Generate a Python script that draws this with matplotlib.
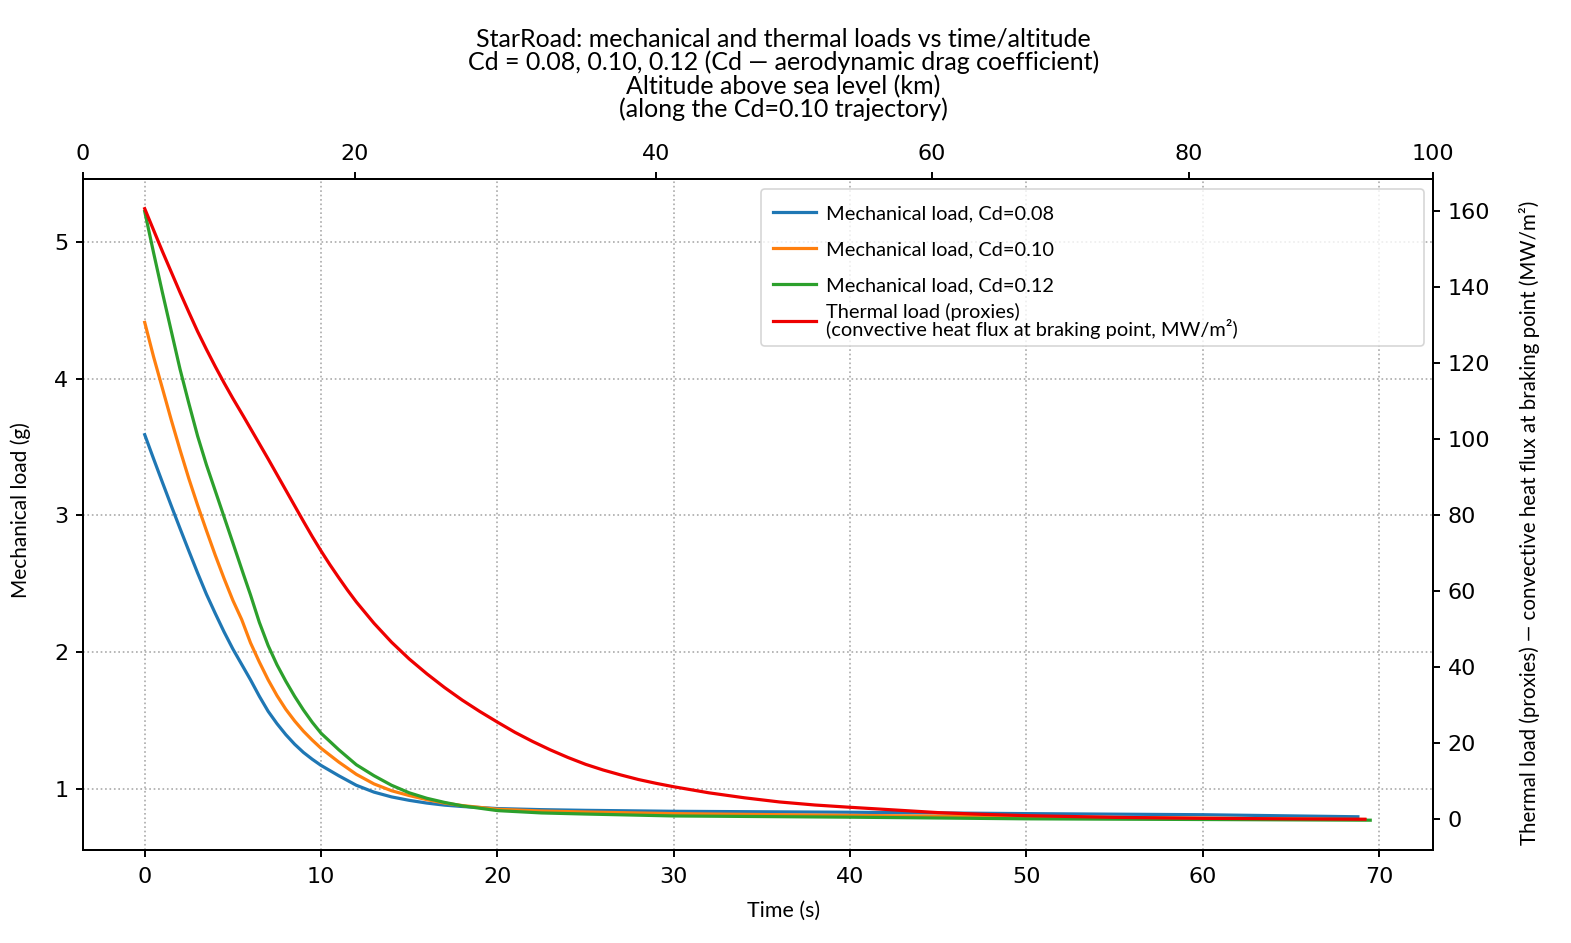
import numpy as np
import matplotlib
matplotlib.use("Agg")
import matplotlib.pyplot as plt
from matplotlib.legend_handler import HandlerLine2D

# ---------------- data ----------------
t_cd08 = [0, 0.5, 1, 1.5, 2, 2.5, 3, 3.5, 4, 4.5, 5, 5.6, 6, 6.5, 7, 7.5, 8, 8.5, 9, 9.5, 10,
          11, 12, 13, 14, 15, 16, 17, 18, 20, 22.5, 25, 30, 40, 50, 60, 68.8]
g_cd08 = [3.59, 3.415, 3.243, 3.073, 2.906, 2.742, 2.580, 2.425, 2.285, 2.150, 2.025, 1.89, 1.80,
          1.68, 1.57, 1.48, 1.40, 1.33, 1.27, 1.22, 1.175, 1.10, 1.03, 0.98, 0.945, 0.92, 0.90,
          0.885, 0.875, 0.860, 0.852, 0.847, 0.840, 0.833, 0.823, 0.815, 0.800]

t_cd10 = [0, 0.5, 1, 1.5, 2, 2.5, 3, 3.5, 4, 4.5, 5, 5.5, 6, 6.5, 7, 7.5, 8, 8.5, 9, 9.5, 10,
          11, 12, 13, 14, 15, 16, 17, 18, 20, 22.5, 25, 30, 40, 50, 60, 69.2]
g_cd10 = [4.41, 4.16, 3.93, 3.70, 3.48, 3.27, 3.075, 2.89, 2.71, 2.54, 2.38, 2.24, 2.07, 1.93,
          1.80, 1.685, 1.585, 1.50, 1.425, 1.36, 1.30, 1.20, 1.11, 1.04, 0.99, 0.955, 0.925, 0.900,
          0.882, 0.855, 0.842, 0.835, 0.823, 0.810, 0.800, 0.790, 0.780]

t_cd12 = [0, 0.5, 1, 1.5, 2, 2.5, 3, 3.5, 4, 4.5, 5, 5.6, 6, 6.5, 7, 7.5, 8, 8.5, 9, 9.5, 10,
          11, 12, 13, 14, 15, 16, 17, 18, 20, 22.5, 25, 30, 40, 50, 60, 69.5]
g_cd12 = [5.22, 4.92, 4.63, 4.35, 4.07, 3.82, 3.58, 3.37, 3.18, 2.99, 2.80, 2.57, 2.42, 2.22, 2.05,
          1.91, 1.79, 1.68, 1.58, 1.49, 1.41, 1.29, 1.18, 1.10, 1.03, 0.975, 0.935, 0.905, 0.880,
          0.845, 0.828, 0.820, 0.806, 0.797, 0.785, 0.780, 0.775]

t_heat = [0, 0.5, 1, 1.5, 2, 2.5, 3, 3.5, 4, 4.5, 5, 5.6, 6, 6.5, 7, 7.5, 8, 8.5, 9, 9.5, 10,
          10.5, 11, 11.5, 12, 13, 14, 15, 16, 17, 18, 19, 20, 21, 22, 23, 24, 25, 26, 27, 28, 29,
          30, 32, 34, 36, 38, 40, 42.5, 45, 47.5, 50, 55, 60, 65, 69.2]
q_heat = [160.6, 155.0, 149.4, 144.0, 138.6, 133.4, 128.3, 123.6, 119.1, 114.8, 110.7, 106.0,
          102.8, 98.8, 94.8, 90.7, 86.6, 82.5, 78.4, 74.4, 70.6, 67.0, 63.6, 60.3, 57.2, 51.6,
          46.6, 42.2, 38.3, 34.7, 31.4, 28.4, 25.6, 22.9, 20.5, 18.3, 16.3, 14.5, 13.0, 11.7,
          10.5, 9.5, 8.6, 7.0, 5.7, 4.6, 3.8, 3.2, 2.5, 1.8, 1.35, 1.0, 0.55, 0.3, 0.15, 0.05]

# altitude along the Cd=0.10 trajectory (time s -> altitude km)
alt_time_s = [-3.5, 11.91, 28.98, 44.64, 59.22, 73.06]
alt_km = [0, 20, 40, 60, 80, 100]

time_ticks = [0, 10, 20, 30, 40, 50, 60, 70]
alt_ticks = [0, 20, 40, 60, 80, 100]
g_ticks = [1, 2, 3, 4, 5]
q_ticks = [0, 20, 40, 60, 80, 100, 120, 140, 160]

labels = ["Mechanical load, Cd=0.08", "Mechanical load, Cd=0.10", "Mechanical load, Cd=0.12",
          "Thermal load (proxies)\n(convective heat flux at braking point, MW/m²)"]
title_text = ("StarRoad: mechanical and thermal loads vs time/altitude\n"
              "Cd = 0.08, 0.10, 0.12 (Cd — aerodynamic drag coefficient)")
top_label = "Altitude above sea level (km)\n(along the Cd=0.10 trajectory)"


class MidLineHandler(HandlerLine2D):
    """Legend line drawn at the middle of the text cap height, with a small left inset."""
    def create_artists(self, legend, orig_handle, xdescent, ydescent, width, height, fontsize, trans):
        arts = super().create_artists(legend, orig_handle, xdescent, ydescent, width, height,
                                      fontsize, trans)
        for a in arts:
            n = len(a.get_xdata())
            a.set_xdata(np.linspace(0.3 * fontsize, width, n))
            a.set_ydata(np.full(n, 0.36 * fontsize))
        return arts


# ---------------- figure ----------------
plt.rcParams['font.family'] = ['Lato', 'DejaVu Sans']
W, H = 1571, 943
fig = plt.figure(figsize=(W / 100, H / 100), dpi=100)
L, R, T, B = 83, 1433, 179, 849.5
ax = fig.add_axes([L / W, (H - B) / H, (R - L) / W, (B - T) / H])

lw = 2.3
h1, = ax.plot(t_cd08, g_cd08, color='tab:blue', lw=lw)
h2, = ax.plot(t_cd10, g_cd10, color='tab:orange', lw=lw)
h3, = ax.plot(t_cd12, g_cd12, color='tab:green', lw=lw)
ax.set_xlim(-3.5, 73.06)
ax.set_ylim(0.561, 5.457)
ax.set_xticks(time_ticks)
ax.set_yticks(g_ticks)
ax.grid(True, linestyle=':', color='#aaaaaa', linewidth=1.2)

ax2 = ax.twinx()
h4, = ax2.plot(t_heat, q_heat, color='#ee0000', lw=lw)
ax2.set_ylim(-7.9, 168.4)
ax2.set_yticks(q_ticks)

sec = ax.secondary_xaxis('top', functions=(lambda t: np.interp(t, alt_time_s, alt_km),
                                           lambda a: np.interp(a, alt_km, alt_time_s)))
sec.set_xticks(alt_ticks)

for a in (ax, ax2, sec):
    for s in a.spines.values():
        s.set_linewidth(1.4)
tick_kw = dict(labelsize=16, labelfontfamily='DejaVu Sans', length=5, width=1.4)
ax.tick_params(axis='x', pad=7.5, **tick_kw)
ax.tick_params(axis='y', pad=5.5, **tick_kw)
ax2.tick_params(axis='y', pad=5.5, **tick_kw)
sec.tick_params(axis='x', pad=5.5, **tick_kw)

cx = (783.5 - L) / (R - L)
ax.set_xlabel("Time (s)", fontsize=15.4)
ax.xaxis.set_label_coords(cx, (B - 901) / (B - T))
ax.set_ylabel("Mechanical load (g)", fontsize=15)
ax.yaxis.set_label_coords((31 - L) / (R - L), (B - 510) / (B - T))
ax2.set_ylabel("Thermal load (proxies) — convective heat flux at braking point (MW/m²)", fontsize=14.8)
ax2.yaxis.set_label_coords((1519 - L) / (R - L), (B - 523) / (B - T))

sec.set_xlabel(top_label, fontsize=18, linespacing=0.97)
sec.xaxis.set_label_coords(cx, (B - 117) / (B - T), transform=ax.transAxes)
ax.set_title(title_text, fontsize=18, linespacing=1.0, x=cx, y=(B - 74) / (B - T), va='bottom', pad=0)

leg = ax.legend([h1, h2, h3, h4], labels, loc='upper right', mode='expand',
                bbox_to_anchor=((761 - L) / (R - L), 0, (1424 - 761) / (R - L), (B - 189.3) / (B - T)),
                borderaxespad=0, fontsize=14.4, labelspacing=0.0, handleheight=2.39,
                handlelength=2.45, handletextpad=0.5, borderpad=0.3,
                handler_map={matplotlib.lines.Line2D: MidLineHandler()})
leg.get_texts()[3].set_linespacing(0.885)
leg.get_frame().set_linewidth(1.2)

fig.savefig("out.png", dpi=100)
